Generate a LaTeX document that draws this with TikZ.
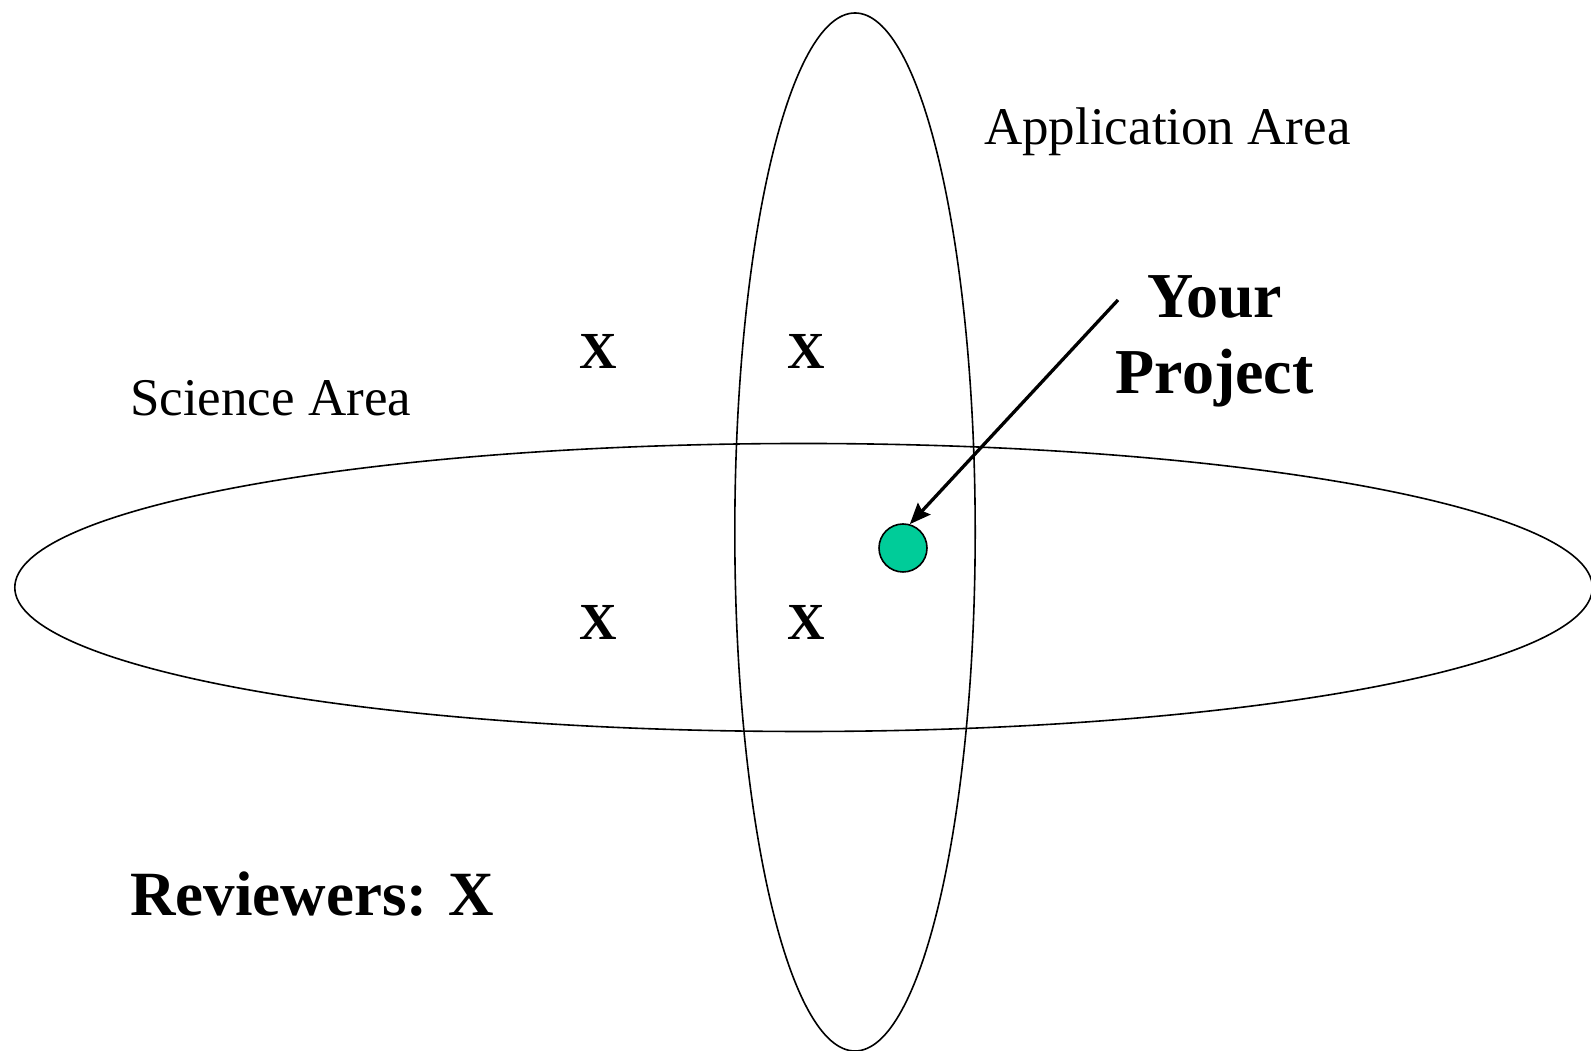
\documentclass[tikz,border=0pt]{standalone}
\usepackage{fontspec}
\setmainfont{Liberation Serif}
\usetikzlibrary{arrows.meta}
\definecolor{projgreen}{RGB}{0,204,153}
\begin{document}
\begin{tikzpicture}[x=1pt,y=1pt,
  area/.style={draw=black,line width=1.6pt},
  lbl/.style={font=\fontsize{53}{60}\selectfont,inner sep=0pt},
  bigbold/.style={font=\fontsize{64}{76}\selectfont\bfseries,inner sep=0pt},
  revmark/.style={font=\fontsize{52}{60}\selectfont\bfseries,inner sep=0pt,anchor=base},
  pointer/.style={line width=3.3pt,-{Stealth[length=21pt,width=17pt,inset=3pt]}}]
\useasboundingbox (0,0) rectangle (1591,1051);
% the two areas
\draw[area] (855,519) ellipse [x radius=120.2, y radius=519];
\draw[area] (803.6,463.5) ellipse [x radius=788.8, y radius=144];
% area labels
\node[lbl,anchor=base west] (app) at (984,906) {Application Area};
\node[lbl,anchor=base west] (sci) at (130,635) {Science Area};
% reviewer marks
\node[revmark] (x1) at (598.6,682.7) {X};
\node[revmark] (x2) at (806.7,682.7) {X};
\node[revmark] (x3) at (598.6,411.7) {X};
\node[revmark] (x4) at (806.7,411.7) {X};
% the project and its pointer
\node[circle,draw=black,line width=1.6pt,fill=projgreen,minimum size=48pt,inner sep=0pt] (dot) at (903,503) {};
\node[bigbold,anchor=base] (your) at (1214.6,733) {Your};
\node[bigbold,anchor=base] (proj) at (1214.6,657) {Project};
\coordinate (from) at (1118,751);
\draw[pointer] (from) -- (dot.74);
% legend
\node[bigbold,anchor=base west,font=\fontsize{63}{76}\selectfont\bfseries] (rev) at (130,135) {Reviewers: X};
\end{tikzpicture}
\end{document}
